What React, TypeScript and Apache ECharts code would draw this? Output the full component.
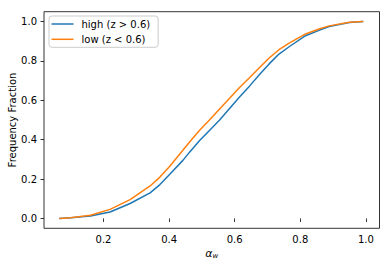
import React, { useEffect, useRef } from "react";
import * as echarts from "echarts";

const highX = [0.065, 0.1, 0.16, 0.22, 0.281, 0.342, 0.372, 0.402, 0.442, 0.463, 0.493, 0.523, 0.554, 0.614, 0.645, 0.675, 0.705, 0.735, 0.766, 0.816, 0.857, 0.888, 0.95, 0.992];
const highY = [0, 0.003, 0.012, 0.033, 0.076, 0.13, 0.172, 0.224, 0.295, 0.338, 0.396, 0.447, 0.5, 0.615, 0.672, 0.73, 0.785, 0.835, 0.872, 0.928, 0.955, 0.975, 0.995, 1.0];
const lowX = [0.065, 0.1, 0.16, 0.22, 0.281, 0.342, 0.372, 0.402, 0.442, 0.463, 0.493, 0.523, 0.554, 0.614, 0.645, 0.675, 0.705, 0.735, 0.766, 0.816, 0.857, 0.888, 0.95, 0.992];
const lowY = [0, 0.004, 0.016, 0.046, 0.096, 0.165, 0.21, 0.265, 0.346, 0.39, 0.448, 0.5, 0.556, 0.664, 0.715, 0.765, 0.815, 0.857, 0.89, 0.937, 0.962, 0.978, 0.996, 1.0];
const xTicks = [0.2, 0.4, 0.6, 0.8, 1.0];
const yTicks = [0.0, 0.2, 0.4, 0.6, 0.8, 1.0];
const seriesNames = ["high (z > 0.6)", "low (z < 0.6)"];

export default function App() {
  const ref = useRef<HTMLDivElement>(null);
  useEffect(() => {
    if (!ref.current) return;
    const chart = echarts.init(ref.current, null, { renderer: "svg" });
    const font = "DejaVu Sans";
    chart.setOption({
      animation: false,
      textStyle: { fontFamily: font },
      grid: {
        left: 44,
        right: 9.5,
        top: 11.7,
        bottom: 39.7,
        containLabel: false,
        outerBoundsMode: "none",
        show: true,
        borderColor: "#000",
        borderWidth: 0.8,
        backgroundColor: "#fff",
      },
      legend: {
        left: 49,
        top: 16,
        orient: "vertical",
        icon: "path://M0,0M0,4.25H22V5.75H0ZM22,10",
        itemWidth: 22,
        itemHeight: 10,
        itemGap: 5.3,
        padding: [3, 8, 3, 2.5],
        backgroundColor: "#fff",
        borderColor: "#cccccc",
        borderWidth: 1,
        borderRadius: 3,
        textStyle: { fontFamily: font, fontSize: 10, color: "#000", padding: [0, 0, 0, 3] },
        data: seriesNames,
      },
      xAxis: {
        type: "value",
        min: 0.0185,
        max: 1.0415,
        splitLine: { show: false },
        axisLine: { show: false },
        axisTick: {
          show: true,
          length: 3.5,
          customValues: xTicks,
          lineStyle: { color: "#000", width: 0.8 },
        },
        axisLabel: {
          customValues: xTicks,
          formatter: (v: number) => v.toFixed(1),
          fontSize: 10,
          color: "#000",
          margin: 6,
          fontFamily: font,
        },
        name: "{a|α}{s|w}",
        nameLocation: "middle",
        nameGap: 20,
        nameMoveOverlap: false,
        nameTextStyle: {
          rich: {
            a: { fontSize: 11, fontStyle: "italic", fontFamily: font, color: "#000" },
            s: { fontSize: 7, fontStyle: "italic", fontFamily: font, color: "#000", verticalAlign: "bottom", padding: [4, 0, 0, 0] },
          },
        },
      },
      yAxis: {
        type: "value",
        min: -0.05,
        max: 1.05,
        splitLine: { show: false },
        axisLine: { show: false },
        axisTick: {
          show: true,
          length: 3.5,
          customValues: yTicks,
          lineStyle: { color: "#000", width: 0.8 },
        },
        axisLabel: {
          customValues: yTicks,
          formatter: (v: number) => v.toFixed(1),
          fontSize: 10,
          color: "#000",
          margin: 7,
          fontFamily: font,
        },
        name: "Frequency Fraction",
        nameLocation: "middle",
        nameGap: 27,
        nameMoveOverlap: false,
        nameTextStyle: { fontSize: 10, color: "#000", fontFamily: font },
      },
      series: [
        {
          name: seriesNames[0],
          type: "line",
          showSymbol: false,
          symbol: "none",
          data: highX.map((x, i) => [x, highY[i]]),
          lineStyle: { color: "#1f77b4", width: 1.5 },
          itemStyle: { color: "#1f77b4" },
        },
        {
          name: seriesNames[1],
          type: "line",
          showSymbol: false,
          symbol: "none",
          data: lowX.map((x, i) => [x, lowY[i]]),
          lineStyle: { color: "#ff7f0e", width: 1.5 },
          itemStyle: { color: "#ff7f0e" },
        },
      ],
    });
    return () => chart.dispose();
  }, []);
  return <div ref={ref} style={{ width: 389, height: 268, position: "absolute", left: 0, top: 0, background: "#fff" }} />;
}
